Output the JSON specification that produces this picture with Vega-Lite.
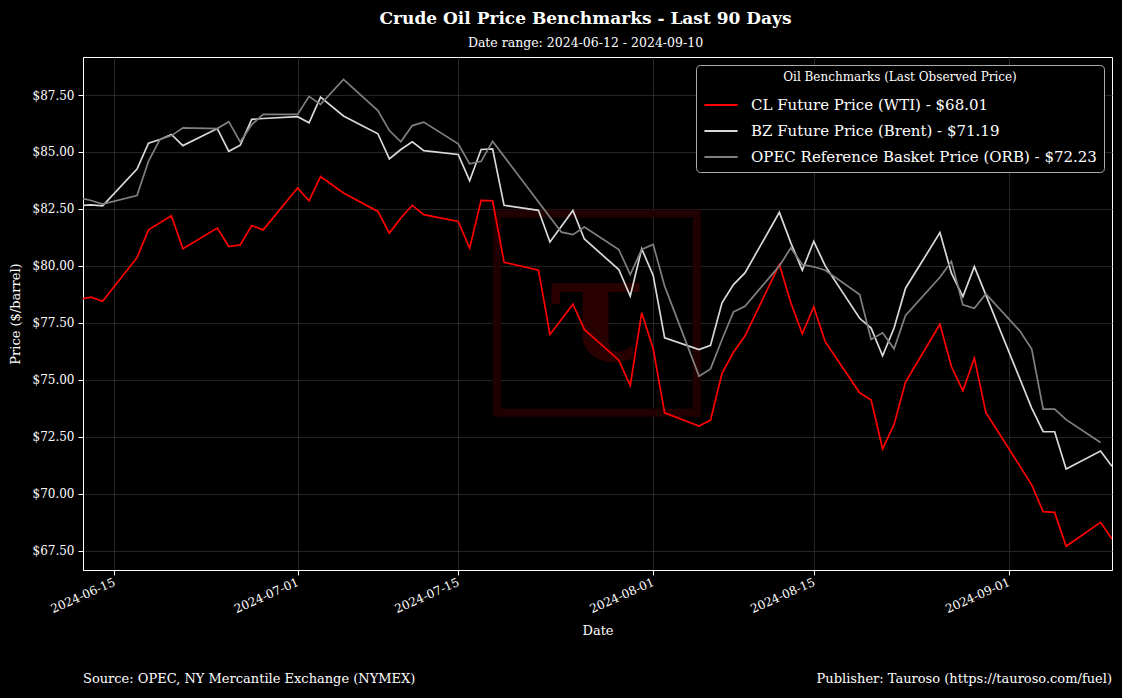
{
  "$schema": "https://vega.github.io/schema/vega-lite/v6.json",
  "autosize": {"type": "none"},
  "width": 1029,
  "height": 513,
  "padding": {"left": 83, "top": 57, "right": 10, "bottom": 128},
  "background": "black",
  "title": {
    "text": "Crude Oil Price Benchmarks - Last 90 Days",
    "subtitle": "Date range: 2024-06-12 - 2024-09-10",
    "anchor": "middle",
    "frame": "group",
    "dx": -12,
    "font": "DejaVu Serif",
    "fontSize": 17,
    "fontWeight": "bold",
    "color": "white",
    "subtitleFont": "DejaVu Serif",
    "subtitleFontSize": 12.5,
    "subtitleColor": "white",
    "subtitlePadding": 9,
    "offset": 7
  },
  "config": {
    "view": {"stroke": "white", "strokeWidth": 1},
    "font": "DejaVu Serif",
    "axis": {
      "domainColor": "white",
      "tickColor": "white",
      "tickSize": 5,
      "labelColor": "white",
      "labelFont": "DejaVu Serif",
      "labelFontSize": 12,
      "titleColor": "white",
      "titleFont": "DejaVu Serif",
      "titleFontSize": 13,
      "titleFontWeight": "normal",
      "gridColor": "#2e2e2e",
      "gridWidth": 0.8
    }
  },
  "datasets": {
    "prices": [
      {"d": "2024-06-12", "wti": 78.54, "brent": 82.65, "orb": 82.98},
      {"d": "2024-06-13", "wti": 78.63, "brent": 82.68, "orb": 82.87},
      {"d": "2024-06-14", "wti": 78.45, "brent": 82.64, "orb": 82.71},
      {"d": "2024-06-17", "wti": 80.36, "brent": 84.25, "orb": 83.09},
      {"d": "2024-06-18", "wti": 81.58, "brent": 85.39, "orb": 84.59},
      {"d": "2024-06-19", "wti": null, "brent": 85.55, "orb": 85.55},
      {"d": "2024-06-20", "wti": 82.20, "brent": 85.77, "orb": 85.72},
      {"d": "2024-06-21", "wti": 80.75, "brent": 85.28, "orb": 86.06},
      {"d": "2024-06-24", "wti": 81.66, "brent": 86.03, "orb": 86.03},
      {"d": "2024-06-25", "wti": 80.85, "brent": 85.03, "orb": 86.33},
      {"d": "2024-06-26", "wti": 80.92, "brent": 85.30, "orb": 85.44},
      {"d": "2024-06-27", "wti": 81.77, "brent": 86.43, "orb": 86.20},
      {"d": "2024-06-28", "wti": 81.58, "brent": 86.47, "orb": 86.65},
      {"d": "2024-07-01", "wti": 83.42, "brent": 86.55, "orb": 86.65},
      {"d": "2024-07-02", "wti": 82.86, "brent": 86.28, "orb": 87.44},
      {"d": "2024-07-03", "wti": 83.92, "brent": 87.41, "orb": 87.09},
      {"d": "2024-07-05", "wti": 83.20, "brent": 86.58, "orb": 88.19},
      {"d": "2024-07-08", "wti": 82.39, "brent": 85.80, "orb": 86.82},
      {"d": "2024-07-09", "wti": 81.44, "brent": 84.70, "orb": 85.94},
      {"d": "2024-07-10", "wti": 82.10, "brent": 85.11, "orb": 85.45},
      {"d": "2024-07-11", "wti": 82.66, "brent": 85.45, "orb": 86.16},
      {"d": "2024-07-12", "wti": 82.25, "brent": 85.06, "orb": 86.31},
      {"d": "2024-07-15", "wti": 81.95, "brent": 84.89, "orb": 85.36},
      {"d": "2024-07-16", "wti": 80.78, "brent": 83.74, "orb": 84.48},
      {"d": "2024-07-17", "wti": 82.88, "brent": 85.11, "orb": 84.59},
      {"d": "2024-07-18", "wti": 82.86, "brent": 85.14, "orb": 85.47},
      {"d": "2024-07-19", "wti": 80.16, "brent": 82.66, "orb": null},
      {"d": "2024-07-22", "wti": 79.81, "brent": 82.44, "orb": null},
      {"d": "2024-07-23", "wti": 76.99, "brent": 81.05, "orb": null},
      {"d": "2024-07-24", "wti": 77.65, "brent": 81.74, "orb": 81.48},
      {"d": "2024-07-25", "wti": 78.32, "brent": 82.43, "orb": 81.37},
      {"d": "2024-07-26", "wti": 77.21, "brent": 81.18, "orb": 81.71},
      {"d": "2024-07-29", "wti": 75.86, "brent": 79.84, "orb": 80.72},
      {"d": "2024-07-30", "wti": 74.75, "brent": 78.67, "orb": 79.62},
      {"d": "2024-07-31", "wti": 77.94, "brent": 80.75, "orb": 80.72},
      {"d": "2024-08-01", "wti": 76.36, "brent": 79.58, "orb": 80.94},
      {"d": "2024-08-02", "wti": 73.55, "brent": 76.84, "orb": 79.11},
      {"d": "2024-08-05", "wti": 72.97, "brent": 76.33, "orb": 75.16},
      {"d": "2024-08-06", "wti": 73.23, "brent": 76.51, "orb": 75.48},
      {"d": "2024-08-07", "wti": 75.28, "brent": 78.38, "orb": 76.77},
      {"d": "2024-08-08", "wti": 76.21, "brent": 79.18, "orb": 77.98},
      {"d": "2024-08-09", "wti": 76.92, "brent": 79.69, "orb": 78.23},
      {"d": "2024-08-12", "wti": 80.06, "brent": 82.35, "orb": 80.00},
      {"d": "2024-08-13", "wti": 78.38, "brent": 81.01, "orb": 80.79},
      {"d": "2024-08-14", "wti": 77.02, "brent": 79.81, "orb": 80.06},
      {"d": "2024-08-15", "wti": 78.20, "brent": 81.08, "orb": 79.96},
      {"d": "2024-08-16", "wti": 76.67, "brent": 80.00, "orb": 79.81},
      {"d": "2024-08-19", "wti": 74.43, "brent": 77.70, "orb": 78.74},
      {"d": "2024-08-20", "wti": 74.11, "brent": 77.27, "orb": 76.77},
      {"d": "2024-08-21", "wti": 71.97, "brent": 76.05, "orb": 77.06},
      {"d": "2024-08-22", "wti": 73.04, "brent": 77.27, "orb": 76.36},
      {"d": "2024-08-23", "wti": 74.90, "brent": 79.02, "orb": 77.82},
      {"d": "2024-08-26", "wti": 77.44, "brent": 81.46, "orb": 79.50},
      {"d": "2024-08-27", "wti": 75.58, "brent": 79.68, "orb": 80.19},
      {"d": "2024-08-28", "wti": 74.52, "brent": 78.65, "orb": 78.29},
      {"d": "2024-08-29", "wti": 75.95, "brent": 79.97, "orb": 78.14},
      {"d": "2024-08-30", "wti": 73.57, "brent": 78.73, "orb": 78.77},
      {"d": "2024-09-02", "wti": null, "brent": null, "orb": 77.12},
      {"d": "2024-09-03", "wti": 70.39, "brent": 73.76, "orb": 76.35},
      {"d": "2024-09-04", "wti": 69.21, "brent": 72.72, "orb": 73.71},
      {"d": "2024-09-05", "wti": 69.18, "brent": 72.72, "orb": 73.71},
      {"d": "2024-09-06", "wti": 67.69, "brent": 71.08, "orb": 73.25},
      {"d": "2024-09-09", "wti": 68.74, "brent": 71.87, "orb": 72.25},
      {"d": "2024-09-10", "wti": 68.01, "brent": 71.20, "orb": null}
    ]
  },
  "layer": [
    {
      "data": {"values": [{"w": "square"}]},
      "mark": {"type": "rect", "fill": null, "stroke": "#200000", "strokeWidth": 8},
      "encoding": {
        "x": {
          "datum": 1721293200000,
          "type": "temporal",
          "scale": {"type": "utc", "domain": [1718175600000, 1725926400000], "nice": false},
          "axis": {
            "title": "Date",
            "labelExpr": "utcFormat(datum.value, '%Y-%m-%d')",
            "values": [1718409600000, 1719792000000, 1721001600000, 1722470400000, 1723680000000, 1725148800000],
            "labelAngle": -24,
            "labelAlign": "right",
            "labelBaseline": "middle",
            "labelPadding": 6,
            "titlePadding": 10,
            "grid": true
          }
        },
        "x2": {"datum": 1722798000000},
        "y": {
          "datum": 82.30,
          "type": "quantitative",
          "scale": {"domain": [66.65, 89.17], "nice": false, "zero": false},
          "axis": {
            "title": "Price ($/barrel)",
            "format": "$.2f",
            "values": [67.5, 70, 72.5, 75, 77.5, 80, 82.5, 85, 87.5],
            "titlePadding": 10,
            "labelPadding": 4,
            "grid": true
          }
        },
        "y2": {"datum": 73.55}
      }
    },
    {
      "data": {"values": [{"t": "τ"}]},
      "mark": {"type": "text", "color": "#280000", "fontSize": 150, "font": "DejaVu Serif", "fontWeight": "bold", "baseline": "middle", "align": "center"},
      "encoding": {
        "text": {"field": "t"},
        "x": {"datum": 1722045600000, "type": "temporal"},
        "y": {"datum": 77.8, "type": "quantitative"}
      }
    },
    {
      "data": {"name": "prices"},
      "transform": [
        {"fold": ["wti", "brent", "orb"]},
        {"filter": "isValid(datum.value)"}
      ],
      "mark": {"type": "line", "strokeWidth": 1.7, "clip": true},
      "encoding": {
        "x": {"field": "d", "type": "temporal", "title": "Date"},
        "y": {"field": "value", "type": "quantitative", "title": "Price ($/barrel)"},
        "color": {
          "field": "key",
          "type": "nominal",
          "scale": {"domain": ["wti", "brent", "orb"], "range": ["#ff0000", "#d9d9d9", "#808080"]},
          "legend": {
            "title": "Oil Benchmarks (Last Observed Price)",
            "orient": "top-right",
            "offset": 8,
            "labelExpr": "{'wti': 'CL Future Price (WTI) - $68.01', 'brent': 'BZ Future Price (Brent) - $71.19', 'orb': 'OPEC Reference Basket Price (ORB) - $72.23'}[datum.label]",
            "fillColor": "black",
            "strokeColor": "#aaaaaa",
            "cornerRadius": 4,
            "padding": 7,
            "titleColor": "white",
            "titleFont": "DejaVu Serif",
            "titleFontSize": 12,
            "titleFontWeight": "normal",
            "titleAnchor": "middle",
            "titlePadding": 3,
            "titleLimit": 600,
            "labelColor": "white",
            "labelFont": "DejaVu Serif",
            "labelFontSize": 15,
            "labelLimit": 600,
            "labelOffset": 12,
            "symbolType": "stroke",
            "symbolSize": 1100,
            "symbolStrokeWidth": 2,
            "rowPadding": 0
          }
        }
      }
    },
    {
      "data": {"values": [{"t": "Source: OPEC, NY Mercantile Exchange (NYMEX)"}]},
      "mark": {"type": "text", "color": "white", "fontSize": 13, "font": "DejaVu Serif", "align": "left", "baseline": "middle", "dy": 109},
      "encoding": {
        "text": {"field": "t"},
        "x": {"datum": 1718175600000, "type": "temporal"},
        "y": {"datum": 66.65, "type": "quantitative"}
      }
    },
    {
      "data": {"values": [{"t": "Publisher: Tauroso (https://tauroso.com/fuel)"}]},
      "mark": {"type": "text", "color": "white", "fontSize": 13, "font": "DejaVu Serif", "align": "right", "baseline": "middle", "dy": 109},
      "encoding": {
        "text": {"field": "t"},
        "x": {"datum": 1725926400000, "type": "temporal"},
        "y": {"datum": 66.65, "type": "quantitative"}
      }
    }
  ]
}
